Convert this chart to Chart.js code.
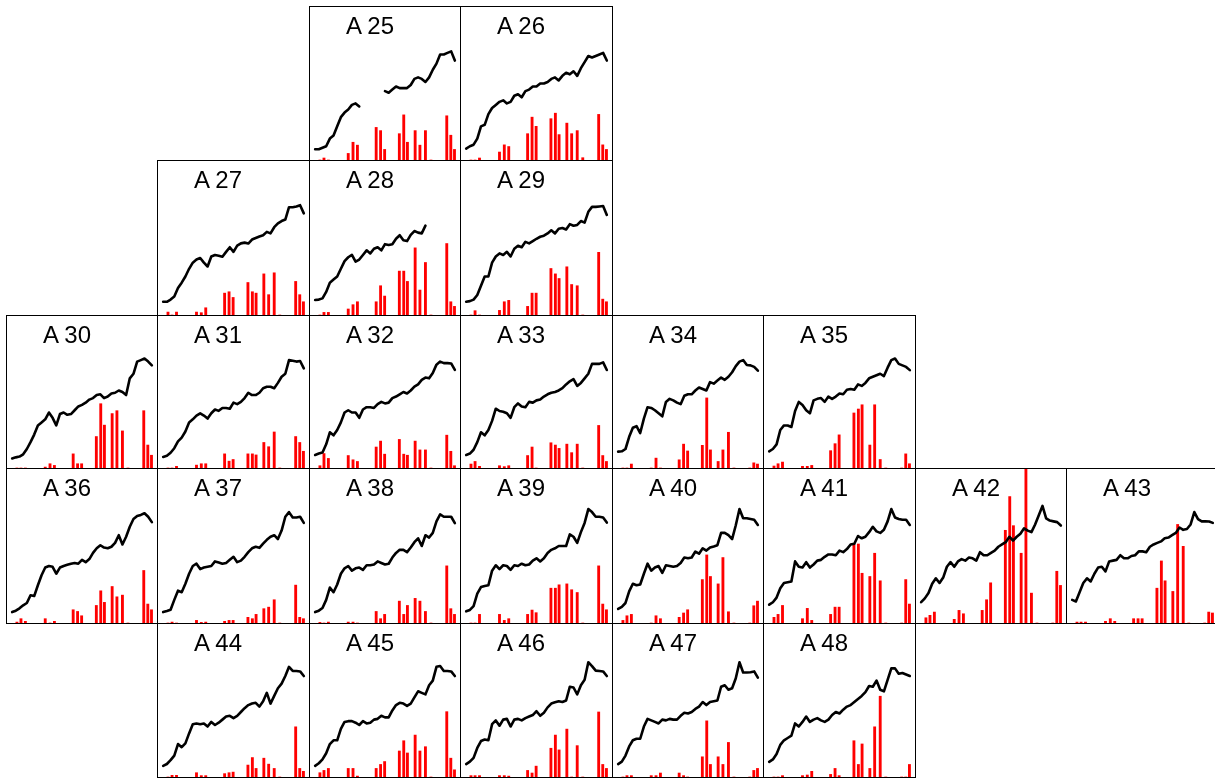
<!DOCTYPE html>
<html><head><meta charset="utf-8">
<script src="https://cdn.jsdelivr.net/npm/chart.js@4.4.1/dist/chart.umd.min.js"></script>
<style>
html,body{margin:0;padding:0;background:#fff;width:1215px;height:778px;overflow:hidden;position:relative}
.panel{position:absolute;box-sizing:border-box;border:1px solid #000;background:#fff}
.panel canvas{position:absolute;left:0;top:0}
.lab{position:absolute;font-family:"Liberation Sans",Arial,sans-serif;font-size:24px;line-height:24px;color:#000;white-space:nowrap}
</style></head><body>
<script>
// time positions of the bar observations (same time unit as the line samples 0..38)
const barPeriods=[1.3,2.4,3.6,9.0,10.3,11.5,16.6,17.8,18.9,22.9,24.1,25.1,27.2,28.5,30.0,31.5,35.8,36.9,37.9];

const line25=[7,7,8,9,14,16,22,28,31,33,36,37,35,null,null,null,null,null,null,45,44,46,48,47,47,47,49,53,54,53,51,54,59,63,69,69,70,71,65];
const line26=[7.5,9,10,14,22,23,30,34,36,38,39,37,38,42,43,41,45,46,48,48,50,50,51,53,54,52,55,57,56,58,55,60,64,68,67,68,69,70,65];
const line27=[8.6,8.6,10,12,17.5,21,25,30,34,36,37,34,31.5,38,39,38.5,37.8,41,44,41,45,46.5,47,46.4,49,50,51,51.8,54,53,57,59.5,61,62,70,70,70.5,71.3,66];
const line28=[9.7,10,10.8,15,21,23,25,30,35,37.5,39,34.6,36,39,42,40,43,44,42,46,45.5,46,49.5,51.8,48.5,48,52,54.5,53.5,53,58,null,null,null,null,null,null,null,null];
const line29=[8.6,9,10,13,19,25,25,34,38,40,39,41,38,43,45,44,47.5,46.5,48,49.5,50.8,51.5,53,55,53,56,56.5,55.5,59,58,58.5,61,60,67,70.2,70.2,70.5,70.8,65];
const line30=[6.3,7,7.5,9,12.5,17,22,28,30,32,36.5,33,28,35.5,36.5,35,35.5,38,40.5,41.5,43,45,46,48,48.5,46,47,49,49.5,51,50,48,59,62,70,71,72,70,67.5];
const line31=[7.3,8,10,13,17.5,20,24,30,32,34.5,36,34.5,32.5,36,38.5,37.6,39.5,39.5,39,43,42,43.5,46,49.5,48,48,49.5,52.5,53.5,53.5,52.5,56,60,62,71,70.5,70,70.4,65.5];
const line32=[8.6,9.5,10.2,15.6,23.5,21.5,25,30,36.5,38,36.5,36.5,33,38.5,40,40,39.5,42,43.5,42.5,43,46,47,48.5,50,49,51,53.5,55,58,59.5,59,62.5,68,70,69,69,68.8,64.5];
const line33=[8.6,9.5,12,17,23.5,21.5,25,31,39,37.5,37,36,33,40,42.5,40.5,40,43.5,43,44.5,45,47,48.5,49.5,50,51,52.5,55,57,58.5,54,56,59,62,68.5,68.5,68.5,69.5,64.5];
const line34=[10.8,11,12.5,20.5,26.5,27.5,23,32.5,40,39.5,38,36,34,43.5,45.5,44.5,43,42,47.5,48.5,48.5,51,53,52,51,56.5,55.5,57.5,59.5,58,60,63,67,70,71,67.8,67.5,66.5,64];
const line35=[11,12.5,15.5,25,28,28,27,37.5,43.5,41.5,38,36,44.5,45.5,46,43.5,47,45.5,47,49,48.5,51.5,52,51.5,55,54,56,59,60,61,62,60.5,66,71,72,68.5,67.5,66.5,64.4];
const line36=[7.1,8,9.5,11.5,13,18,17.5,24.5,31,36,37,36.5,32,36,37,37.8,38.5,39,38.5,41,39.5,41.5,45.5,48.5,50.5,49,48.5,49.5,52,57,51,56,62.5,67.5,69.5,70.2,71.3,69,65.5];
const line37=[7.1,7.8,8.6,15,21,20,25.5,32,37,38.5,35,36,36.5,37,40,39.3,38.5,39,41,43,39.5,40.5,43,46,48.5,49.5,48.8,51.5,54,56,57,54.5,60,69,72,68.5,68.5,69,65];
const line38=[7.1,8,9.7,15,23,20,25,32,35.5,37,34,35.5,36,34.5,37.5,37.5,38,40,39,38,38.5,42.5,45.5,47.5,47.5,46,49,52.5,55,50,57,55.5,58.5,66,70.5,69,69,69,64.8];
const line39=[7.6,8.5,11,19,23.3,24,24.5,34,37.5,35,37.5,37,34.5,37.5,37,38.5,37.5,38,40.5,42,40,42,45.5,47.5,48.5,50,50,50,57.5,56,52,59,65,74,72,69,69,68.5,65.2];
const line40=[9.1,10.5,13,20.5,25.5,24.5,25,32,38.5,34,36,37,32.5,37.5,37,36.5,37,39,42.5,42,42.5,46.4,45,48.5,47,49,49.7,50.5,58.5,58.5,57,54.5,63.5,74,68,68,67.5,67,63.7];
const line41=[11.9,13.5,16.5,22.5,26,26.5,27,40,36.5,36,39.5,36,38,40.5,41,43,44.5,44.5,44,47,46,48,51,51.5,56.5,55,56,59,62.5,59.5,58.5,60.5,66,74,68.5,67.5,67,67,63.7];
const line42=[13.5,16,19.5,25.5,29,26,29.5,36.5,39.5,36.5,40,41.5,40.5,42.5,42,40.5,46,44,44,45.5,47,49.5,51,52.5,56,53.5,56,58,61.5,60,59,64,70,76,68,66.5,66,65.5,63.3];
const line43=[15,14,20,26,29,27,32,36,36.5,33.5,40,40.5,41,44,42,42,43.5,44,46.5,46.5,46,49.5,51,52,53,55,55.5,57,58.5,62,60.5,61,64,72,67.5,66,66,65.9,65];
const line44=[7.3,8.5,11,14,21.5,19.5,22,28.5,34.5,35,34.5,35,33,36,34,35.5,37.5,39.5,40,38.5,40,42.5,45,47,48,48.5,46,49.5,55,48,53,58,61,66,72,69.3,69.3,69,66];
const line45=[7.3,9,11.5,15.5,21.5,24,24,31.5,36,36.5,36.5,35.5,34,36.5,35,35.5,37.5,38,40,39,39,43.5,47,48.5,48,46.5,48,52,56,55,54,60,63,72,72.5,69.3,69.3,69,66];
const line46=[8.4,10,12.5,19,23.5,24.5,24,34.5,37,33.5,37.5,38,33,37.5,38,37,38.5,39.5,40.5,43,40,42,45.5,48,48.8,49.5,49,50,59,58.5,54,60,63.5,75,72.5,69.5,69.3,69,66];
const line47=[8.4,10,14,20,24,25,25,33,38,37,36,35,37.5,37,38,37.5,37.5,40,42,41.5,42.5,44.5,46,49,47,49,49.5,50,59,60,57,58,64.5,75,68.3,68.3,68.5,69,65];
const line48=[9.9,11.5,15,21,24,25.5,27,35,33,36,39.5,36,37.5,38.5,37,36,37.5,40.5,42.5,41.5,44,46,47,49,51,53,55.5,59.5,59,63,57,56,63.5,71,71,67.5,68,67,66];

const bars25=[0,1.3,0,4.3,11.6,9.7,21.3,19.2,6.9,17.2,29.5,11.6,19.2,9.7,19.2,0,28.9,16.2,6.9];
const bars26=[0,0,1.3,5.2,9.9,8.8,17.2,28,22,27,30.6,16.6,24.1,17.2,19.2,1.5,29.8,9.9,6.9];
const bars27=[1.9,0,1.9,1.9,1.5,4.7,14.2,15.1,11.4,21.1,15.1,14.2,26.7,13.2,27.4,0,21.8,13.2,8.6];
const bars28=[0,1.7,1.7,3.9,6.7,8.6,8.6,19,12.3,28.5,28.5,21.8,43.6,16.2,34.1,0,46.4,8.6,5.6];
const bars29=[0,2.8,0,3,8.6,9.5,5.6,14.2,14.2,30.2,26.7,23.7,31.3,19.8,19,0,40.7,10.3,8.6];
const bars30=[0,0,0,0.6,2.8,1.7,9.3,2.8,2.8,20.7,42.3,28.2,35.8,37.7,24.4,0,37.7,15.1,8.4];
const bars31=[0,0,1.1,1.9,2.8,2.8,9.3,4.5,5.6,9.3,9.3,8.6,16.8,14,23.7,0,20.7,16.8,11];
const bars32=[1.5,9.5,6.3,8.2,5.4,4.3,13.8,17.7,9.1,18.8,9.1,8.4,17.7,11.9,11.9,0,21.6,11,1.5];
const bars33=[2.6,4.3,1.1,1.5,0.9,1.5,8.2,13.8,0,16.6,15.1,12.9,15.7,10.1,15.7,0,28,8.2,4.3];
const bars34=[0,0,2.6,0,6.5,0,5.4,15.7,11.2,14.9,46.1,11.9,4.3,11.9,23.5,0,0,3.4,2.6];
const bars35=[1.3,2.8,3.9,1.1,1.1,1.7,11.4,16,21.8,36.2,38.8,41.6,15.1,41.6,5.6,0,0,9.3,2.8];
const bars36=[0.6,2.8,1.1,2.8,0,1.1,8.6,7.5,4.7,11.4,20.9,13.4,23.7,17,18.1,0,34.1,12.3,8.6];
const bars37=[0,0.6,0,1.7,0.4,0.6,1.1,1.7,1.7,3.7,2.8,5.6,9.3,10.3,15.1,0,24.6,3.7,2.8];
const bars38=[0.4,0,0.6,0.6,0.6,0,7.5,2.8,5.6,14.2,5.6,11.4,16,14.2,7.5,0,37.1,9.3,5.6];
const bars39=[0,0,5.6,5.6,1.7,2.8,5.6,8.4,6.7,22.6,22.6,24.8,25.4,21.6,19.8,0,37.1,12.3,8.6];
const bars40=[1.7,4.7,5.6,0,4.7,2.8,3.7,6.5,8.6,28.2,44.2,30.2,25.4,42.5,7.3,0,0,11.2,14.2];
const bars41=[3.7,5.6,11.4,2.8,9.5,1.7,5.6,10.3,10.3,51.3,51.3,32.3,30.2,45.3,27.4,0,0,28.2,12.3];
const bars42=[3.4,5,7.1,2.4,8.2,6,8.2,15.1,26.1,60.2,82.1,63.2,45.3,115,19.4,0,0,33.6,24.4];
const bars43=[0.6,0.6,0.6,1.1,2.8,1.1,2.8,2.8,2.8,22.6,40.3,27.4,20.5,64,49.8,0,0,7.1,6.5];
const bars44=[0,1.1,1.1,2.8,0.9,0.9,2.2,2.8,3.2,7.8,12.7,5.6,12.3,8.4,5.6,0,32.8,5.6,3.7];
const bars45=[2.8,4.3,5.6,5.6,5.6,0.6,5.6,8.2,10.1,17,23.7,15.7,27.4,17,19.8,0,42.7,12.3,4.7];
const bars46=[0.9,0.9,0.9,0.9,0.9,0.6,4.3,2.6,7.1,18.8,27.4,17.7,31.3,0,20.5,0,42.5,8.2,5.6];
const bars47=[0,0.9,0.9,0.9,0.9,2.6,2.6,0.9,0,13.2,36.7,8.2,13.2,8.2,22.6,0,0,4.3,5.6];
const bars48=[0,0,0.9,0.9,1.3,3.7,1.7,5.6,0.9,23.7,8.2,21.6,5.6,32.8,52.8,0,0,0,8.2];

const panelNames=["A 25","A 26","A 27","A 28","A 29","A 30","A 31","A 32","A 33","A 34","A 35","A 36","A 37","A 38","A 39","A 40","A 41","A 42","A 43","A 44","A 45","A 46","A 47","A 48"];
const panelLines=[line25,line26,line27,line28,line29,line30,line31,line32,line33,line34,line35,line36,line37,line38,line39,line40,line41,line42,line43,line44,line45,line46,line47,line48];
const panelBars=[bars25,bars26,bars27,bars28,bars29,bars30,bars31,bars32,bars33,bars34,bars35,bars36,bars37,bars38,bars39,bars40,bars41,bars42,bars43,bars44,bars45,bars46,bars47,bars48];

// layout: [row, col] per panel
const grid=[[0,2],[0,3],[1,1],[1,2],[1,3],[2,0],[2,1],[2,2],[2,3],[2,4],[2,5],
 [3,0],[3,1],[3,2],[3,3],[3,4],[3,5],[3,6],[3,7],[4,1],[4,2],[4,3],[4,4],[4,5]];
const colX=[6,157,309,460,612,763,915,1066,1218];
const rowY=[6,160,315,468,623,777];

panelNames.forEach((name,k)=>{
  const [r,c]=grid[k];
  const L=colX[c], T=rowY[r];
  const W=colX[c+1]-L+1, H=rowY[r+1]-T+1;
  const div=document.createElement('div');
  div.className='panel';
  div.style.left=L+'px'; div.style.top=T+'px';
  div.style.width=W+'px'; div.style.height=H+'px';
  document.body.appendChild(div);
  const cv=document.createElement('canvas');
  cv.width=W-2; cv.height=H-2;
  cv.style.width=(W-2)+'px'; cv.style.height=(H-2)+'px';
  div.appendChild(cv);
  const lab=document.createElement('div');
  lab.className='lab';
  lab.textContent=name;
  lab.style.left='36px'; lab.style.top='7px';
  div.appendChild(lab);

  const lineData=panelLines[k].map((v,i)=>({x:i,y:v}));
  const barData=barPeriods.map((p,j)=>({x:p,y:panelBars[k][j]}));
  new Chart(cv,{
    data:{datasets:[
      {type:'line',data:lineData,borderColor:'#000',borderWidth:2.6,pointRadius:0,tension:0,
       borderJoinStyle:'round',borderCapStyle:'round',spanGaps:false,order:0},
      {type:'bar',data:barData,backgroundColor:'#ff0000',borderWidth:0,barThickness:2.2,order:1}
    ]},
    options:{
      responsive:false,animation:false,devicePixelRatio:1,
      layout:{padding:0},
      plugins:{legend:{display:false},tooltip:{enabled:false},title:{display:false}},
      scales:{
        x:{type:'linear',min:-1.4,max:39.4,offset:false,display:false},
        y:{type:'linear',min:0,max:100,display:false}
      }
    }
  });
});
</script>
</body></html>
